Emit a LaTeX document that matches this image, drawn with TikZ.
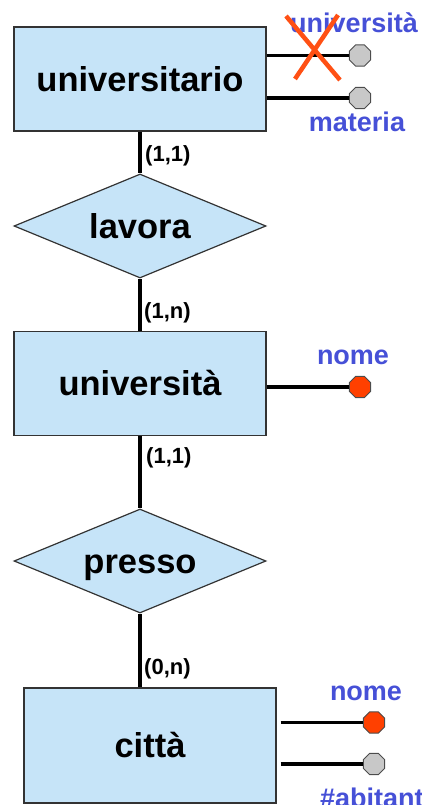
\documentclass[tikz,border=0pt]{standalone}
\usepackage{fontspec}
\setmainfont{Liberation Sans}
\usetikzlibrary{shapes.geometric}

\definecolor{erfill}{HTML}{C6E4F8}
\definecolor{attrblue}{HTML}{4650D7}
\definecolor{keyred}{HTML}{FF4000}
\definecolor{attrgray}{HTML}{C8C8C8}
\definecolor{crossred}{HTML}{FF5014}

\tikzset{
  entity/.style={draw=black!80, line width=1.2pt, fill=erfill, minimum width=252pt,
    minimum height=104pt, inner sep=0pt, text height=24.5pt, text depth=0pt,
    font=\fontsize{34.5}{40}\selectfont\bfseries},
  relation/.style={diamond, aspect=2.42, draw=black!80, line width=1.2pt, fill=erfill,
    minimum width=252pt, minimum height=104pt, inner sep=0pt, text height=24.5pt, text depth=0pt,
    font=\fontsize{34.5}{40}\selectfont\bfseries},
  link/.style={line width=3.4pt},
  attr/.style={regular polygon, regular polygon sides=8, minimum size=23pt, inner sep=0pt,
    draw=black!70, line width=1pt, fill=attrgray},
  keyattr/.style={attr, fill=keyred},
  attrname/.style={text=attrblue, font=\fontsize{27}{30}\selectfont\bfseries, inner sep=0pt, anchor=base},
  card/.style={font=\fontsize{22}{24}\selectfont\bfseries, inner sep=0pt, anchor=base west}
}

\begin{document}
\begin{tikzpicture}[x=1pt, y=-1pt]
    \useasboundingbox (0,0) rectangle (421,805);

    % Draw the entities and relations
    \node[entity] (universitario) at (140,79) {universitario};
    \node[relation] (lavora) at (140,226) {lavora};
    \node[entity] (universita) at (140,383.5) {università};
    \node[relation] (presso) at (140,561) {presso};
    \node[entity, minimum height=115pt] (citta) at (150,745.5) {città};

    % Draw the links
    \draw[link] (universitario) -- (lavora);
    \draw[link] (lavora) -- (universita);
    \draw[link] (universita) -- (presso);
    \draw[link] (presso) -- (presso.south |- citta.north);

    % Draw the cardinalities
    \node[card] (c1) at (145,161.5) {(1,1)};
    \node[card] (c2) at (144,318.5) {(1,n)};
    \node[card] (c3) at (146,463.5) {(1,1)};
    \node[card] (c4) at (144,674.5) {(0,n)};

    % Draw the attributes
    \node[attr] (univ1) at (360,55.5) {};
    \node[attr] (univ2) at (360,98) {};
    \draw[link] (universitario.east |- univ1) -- (univ1);
    \draw[link] (universitario.east |- univ2) -- (univ2);
    \node[attrname] (univ1name) at (354,33) {università};
    \node[attrname] (univ2name) at (357,132) {materia};

    \node[keyattr] (uninome) at (360,387) {};
    \draw[link] (universita.east |- uninome) -- (uninome);
    \node[attrname] (uninomename) at (353,364) {nome};

    \node[keyattr] (cittanome) at (374,722.5) {};
    \node[attr] (cittaab) at (374,764) {};
    \draw[link] ([xshift=4pt]citta.east |- cittanome) -- (cittanome);
    \draw[link] ([xshift=4pt]citta.east |- cittaab) -- (cittaab);
    \node[attrname] (cittanomename) at (366,700) {nome};
    \node[attrname, anchor=base west] (cittaabname) at (320,807) {\#abitanti};

    % Draw the cross
    \draw[crossred, line width=4.5pt] (286,16) -- (340,80) (338,15) -- (295,79);
\end{tikzpicture}
\end{document}
